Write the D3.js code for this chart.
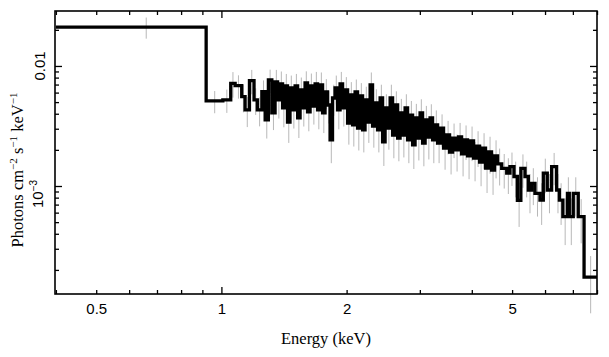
<!DOCTYPE html>
<html>
<head>
<meta charset="utf-8">
<script src="https://cdn.jsdelivr.net/npm/d3@7"></script>
<style>
  html, body { margin: 0; padding: 0; background: #fff; }
  svg { display: block; }
</style>
</head>
<body>
<svg id="chart" width="609" height="357"></svg>
<script>
// Bin edges (keV)
const binEdges = [0.40, 0.919, 1.008, 1.053, 1.079, 1.119, 1.140, 1.168, 1.198, 1.220, 1.251,
  1.274, 1.297, 1.322, 1.346,
  1.365, 1.384, 1.403, 1.423, 1.442, 1.462, 1.483, 1.504, 1.525, 1.546,
  1.567, 1.589, 1.611, 1.634, 1.657, 1.680, 1.703, 1.727, 1.751, 1.775,
  1.800, 1.825, 1.850, 1.876, 1.902, 1.929, 1.956, 1.983, 2.011, 2.039,
  2.067, 2.096, 2.125, 2.155, 2.185, 2.215, 2.246, 2.278, 2.309, 2.342,
  2.374, 2.408, 2.441, 2.475, 2.510, 2.545, 2.580, 2.616, 2.653, 2.689,
  2.727, 2.765, 2.803, 2.843, 2.882, 2.922, 2.963, 3.004, 3.046, 3.089,
  3.132, 3.175, 3.219, 3.264, 3.310,
  3.365, 3.421, 3.479, 3.537, 3.596, 3.656, 3.718, 3.780, 3.843, 3.907,
  3.973, 4.039, 4.107, 4.176, 4.246, 4.316, 4.389, 4.462, 4.537, 4.613, 4.720,
  4.853, 4.941, 5.052, 5.148, 5.248, 5.370, 5.470, 5.571, 5.675, 5.834, 5.943, 6.075,
  6.223, 6.397, 6.494, 6.622, 6.792, 6.863, 7.015, 7.211, 7.447, 8.0];

// Flux per bin (photons cm^-2 s^-1 keV^-1)
const flux = [0.0211, 0.00511, 0.00521, 0.00717, 0.00685, 0.00555, 0.00430, 0.00754, 0.00521,
  0.00430, 0.00611, 0.00355, 0.00764, 0.00406,
  0.00736, 0.00521, 0.00708, 0.00447, 0.00681, 0.00341, 0.00655, 0.00430, 0.00681, 0.00369,
  0.00631, 0.00447, 0.00722, 0.00414, 0.00681, 0.00464, 0.00708, 0.00430, 0.00695, 0.00406,
  0.00607, 0.00473, 0.00242, 0.00541, 0.00655, 0.00430, 0.00708, 0.00447, 0.00631, 0.00335,
  0.00573, 0.00323, 0.00607, 0.00304, 0.00562, 0.00293, 0.00521, 0.00341, 0.00695, 0.00316,
  0.00492, 0.00293, 0.00541, 0.00233, 0.00447, 0.00304, 0.00541, 0.00266, 0.00473, 0.00251,
  0.00406, 0.00266, 0.00447, 0.00242, 0.00390, 0.00220, 0.00369, 0.00251, 0.00406, 0.00228,
  0.00355, 0.00256, 0.00369, 0.00242, 0.00323,
  0.00228, 0.00304, 0.00207, 0.00266, 0.00192, 0.00251, 0.00200, 0.00256, 0.00185, 0.00242,
  0.00178, 0.00237, 0.00171, 0.00215, 0.00158, 0.00207, 0.00141, 0.00192, 0.00136, 0.00178,
  0.00153,
  0.00140, 0.00128, 0.00145, 0.00120, 0.00076, 0.00140, 0.00120, 0.000926, 0.00105, 0.000869,
  0.000764, 0.00128, 0.000926, 0.00145, 0.000926, 0.000764, 0.000555, 0.000869, 0.000555,
  0.000869, 0.000555, 0.000174];

// Relative 1-sigma errors per bin
const relErr = [0.20, 0.21, 0.22, 0.24, 0.22, 0.26, 0.28, 0.23, 0.25, 0.27, 0.24, 0.30, 0.22, 0.28,
  0.26, 0.30, 0.27, 0.31, 0.26, 0.33, 0.27, 0.30, 0.26, 0.32,
  0.27, 0.30, 0.25, 0.31, 0.27, 0.30, 0.26, 0.31, 0.27, 0.32,
  0.28, 0.30, 0.36, 0.29, 0.27, 0.31, 0.26, 0.30, 0.28, 0.34,
  0.28, 0.34, 0.27, 0.35, 0.28, 0.35, 0.29, 0.33, 0.27, 0.34,
  0.30, 0.35, 0.29, 0.37, 0.30, 0.34, 0.29, 0.36, 0.30, 0.36,
  0.31, 0.35, 0.30, 0.36, 0.31, 0.37, 0.31, 0.35, 0.30, 0.36,
  0.31, 0.35, 0.30, 0.36, 0.32,
  0.32, 0.30, 0.34, 0.31, 0.35, 0.32, 0.34, 0.31, 0.35, 0.32, 0.36, 0.32, 0.36, 0.33, 0.37,
  0.33, 0.38, 0.34, 0.38, 0.35, 0.34,
  0.32, 0.33, 0.31, 0.33, 0.40, 0.31, 0.33, 0.36, 0.34, 0.36, 0.38, 0.32, 0.36, 0.30, 0.36,
  0.38, 0.42, 0.36, 0.42, 0.36, 0.40, 0.50];

const xLabelTicks = [0.5, 1, 2, 5];
const xMajorTicks = [1];
const xMinorTicks = [0.4, 0.5, 0.6, 0.7, 0.8, 0.9, 2, 3, 4, 5, 6, 7, 8];
const yMajorTicks = [0.01, 0.001];
const yMinorTicks = [2e-4, 3e-4, 4e-4, 5e-4, 6e-4, 7e-4, 8e-4, 9e-4,
  2e-3, 3e-3, 4e-3, 5e-3, 6e-3, 7e-3, 8e-3, 9e-3, 0.02];
const xDomain = [0.398, 8.0];
const yDomain = [1.26e-4, 0.0287];

const W = 609, H = 357;
const m = { left: 55, right: 12, top: 11, bottom: 63 };
const iw = W - m.left - m.right, ih = H - m.top - m.bottom;

const svg = d3.select("#chart");
const g = svg.append("g").attr("transform", `translate(${m.left},${m.top})`);

const x = d3.scaleLog().domain(xDomain).range([0, iw]);
const y = d3.scaleLog().domain(yDomain).range([ih, 0]);

const n = Math.min(flux.length, binEdges.length - 1, relErr.length);
const bins = d3.range(n).map(i => ({
  lo: binEdges[i], hi: binEdges[i + 1], v: flux[i], e: flux[i] * relErr[i]
}));

// error bars
g.append("g").selectAll("line").data(bins).join("line")
  .attr("x1", d => x((d.lo + d.hi) / 2))
  .attr("x2", d => x((d.lo + d.hi) / 2))
  .attr("y1", d => y(d.v + d.e))
  .attr("y2", d => y(Math.max(d.v - d.e, yDomain[0] * 0.5)))
  .attr("stroke", "#b8b8b8")
  .attr("stroke-width", 1);

// step histogram
const pts = [];
bins.forEach(d => { pts.push([d.lo, d.v]); pts.push([d.hi, d.v]); });
const line = d3.line().x(p => x(p[0])).y(p => y(p[1]));
g.append("path").datum(pts)
  .attr("d", line)
  .attr("fill", "none")
  .attr("stroke", "#000")
  .attr("stroke-width", 3.3)
  .attr("stroke-linejoin", "miter");

// inward ticks on all sides
function ticks(axisFn, vals, size, transform) {
  const a = g.append("g").attr("transform", transform)
    .call(axisFn.tickValues(vals).tickSize(size).tickFormat(""));
  a.select(".domain").remove();
  a.selectAll("line").attr("stroke", "#000").attr("stroke-width", 1.3);
}
ticks(d3.axisBottom(x), xMinorTicks, -4, `translate(0,${ih})`);
ticks(d3.axisBottom(x), xMajorTicks, -7, `translate(0,${ih})`);
ticks(d3.axisTop(x), xMinorTicks, -4, `translate(0,0)`);
ticks(d3.axisTop(x), xMajorTicks, -7, `translate(0,0)`);
ticks(d3.axisLeft(y), yMinorTicks, -4, `translate(0,0)`);
ticks(d3.axisLeft(y), yMajorTicks, -7, `translate(0,0)`);
ticks(d3.axisRight(y), yMinorTicks, -4, `translate(${iw},0)`);
ticks(d3.axisRight(y), yMajorTicks, -7, `translate(${iw},0)`);

// frame
g.append("rect").attr("x", 0).attr("y", 0).attr("width", iw).attr("height", ih)
  .attr("fill", "none").attr("stroke", "#000").attr("stroke-width", 1.6);

// x tick labels
const xl = g.append("g").attr("transform", `translate(0,${ih})`)
  .call(d3.axisBottom(x).tickValues(xLabelTicks).tickSize(0).tickPadding(9)
    .tickFormat(d3.format("")));
xl.select(".domain").remove();
xl.selectAll("text").attr("font-family", "'Liberation Sans', Arial, sans-serif")
  .attr("font-size", 15).attr("fill", "#000");

// y tick labels (rotated)
const yLab = g.append("g");
yLab.append("text")
  .attr("transform", `translate(${-10},${y(0.01)}) rotate(-90)`)
  .attr("text-anchor", "middle")
  .attr("font-family", "'Liberation Sans', Arial, sans-serif")
  .attr("font-size", 15).text("0.01");
const t3 = yLab.append("text")
  .attr("transform", `translate(${-12},${y(0.001) + 8}) rotate(-90)`)
  .attr("text-anchor", "middle")
  .attr("font-family", "'Liberation Sans', Arial, sans-serif")
  .attr("font-size", 15);
t3.append("tspan").text("10");
t3.append("tspan").attr("font-size", 10).attr("dy", -6).text("−3");

// axis titles
svg.append("text")
  .attr("x", m.left + iw / 2).attr("y", 344)
  .attr("text-anchor", "middle")
  .attr("font-family", "'Liberation Serif', 'Times New Roman', serif")
  .attr("font-size", 16.5).text("Energy (keV)");

const yt = svg.append("text")
  .attr("transform", `translate(23,${170}) rotate(-90)`)
  .attr("text-anchor", "middle")
  .attr("font-family", "'Liberation Serif', 'Times New Roman', serif")
  .attr("font-size", 16.5);
yt.append("tspan").text("Photons cm");
yt.append("tspan").attr("font-size", 11).attr("dy", -6).text("−2");
yt.append("tspan").attr("dy", 6).text(" s");
yt.append("tspan").attr("font-size", 11).attr("dy", -6).text("−1");
yt.append("tspan").attr("dy", 6).text(" keV");
yt.append("tspan").attr("font-size", 11).attr("dy", -6).text("−1");
</script>
</body>
</html>
